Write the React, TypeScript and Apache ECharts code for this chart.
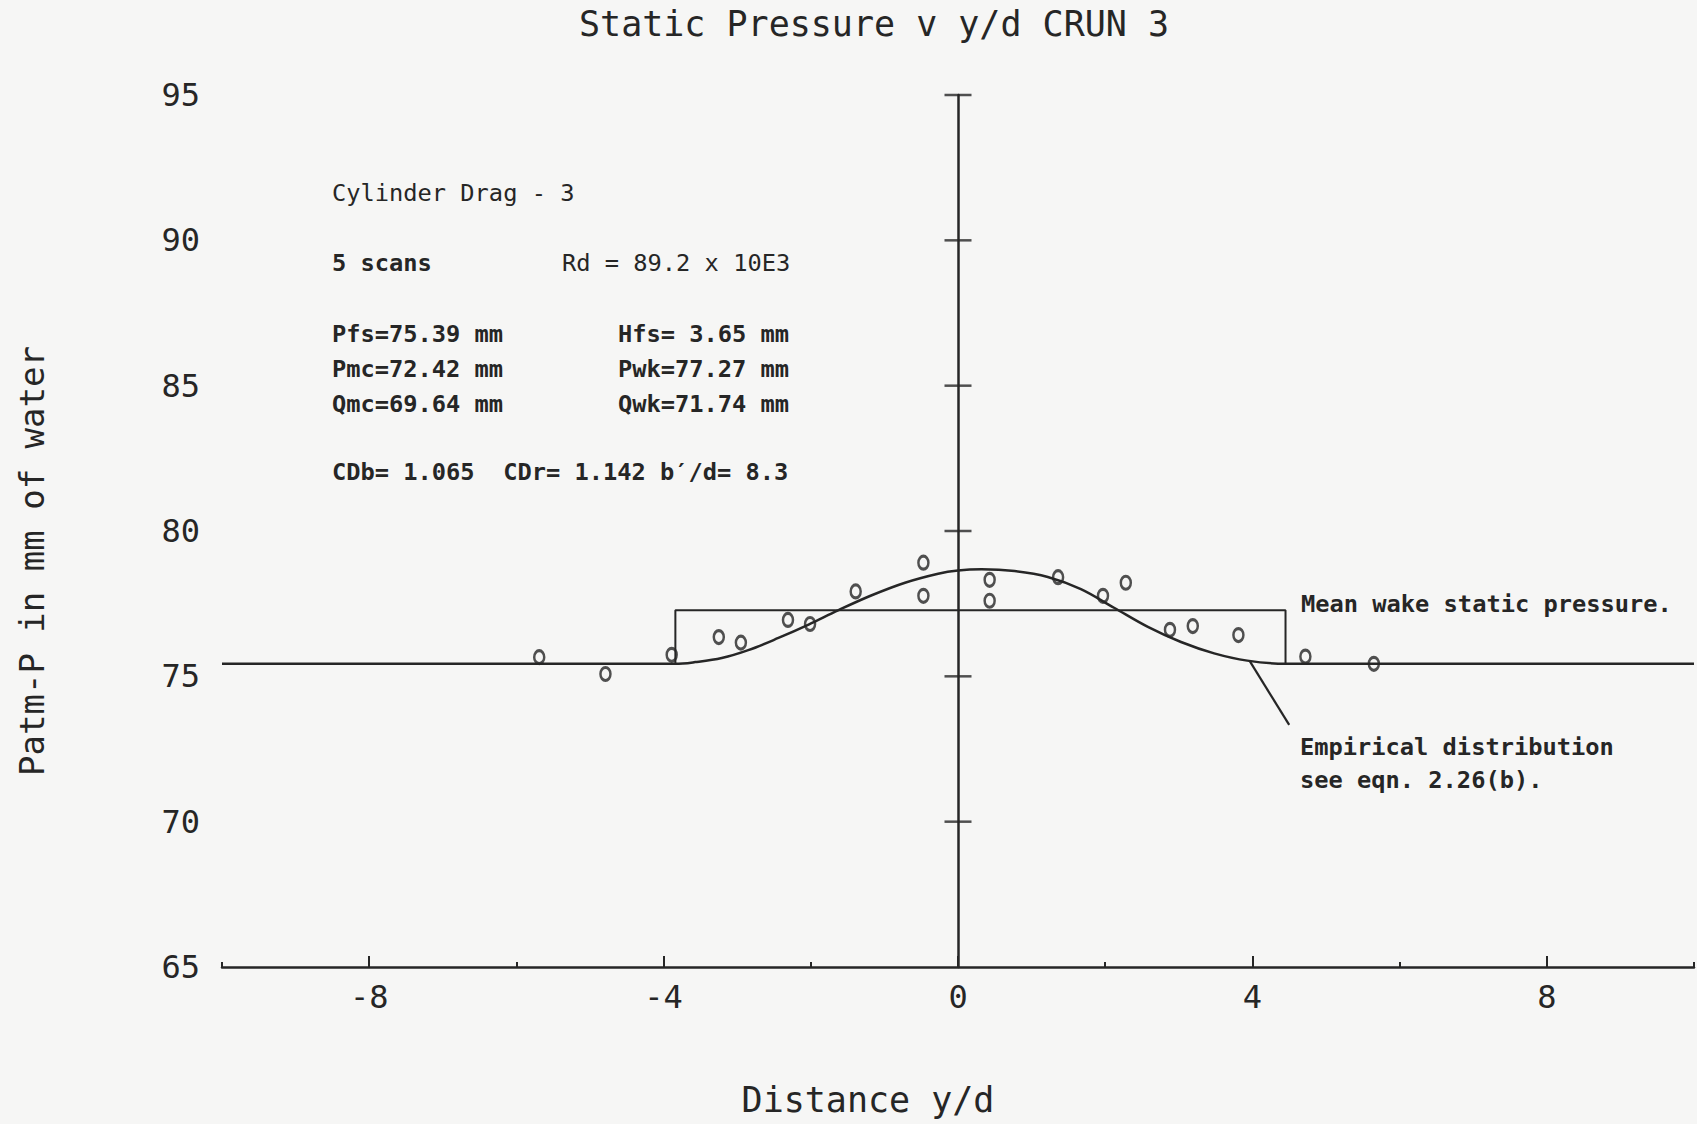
import React, { useEffect, useRef } from "react";
import * as echarts from "echarts";

// ---- data ----
const pointX = [-5.69, -4.79, -3.89, -3.25, -2.95, -2.31, -2.01, -1.39, -0.47, -0.47, 0.43, 0.43, 1.36, 1.97, 2.28, 2.88, 3.19, 3.81, 4.72, 5.65];
const pointY = [75.66, 75.08, 75.74, 76.35, 76.16, 76.94, 76.8, 77.92, 78.91, 77.77, 78.32, 77.6, 78.41, 77.77, 78.22, 76.6, 76.73, 76.42, 75.68, 75.43];

const curveX = [-10, -3.84, -3.57, -3.21, -2.85, -2.44, -2.03, -1.63, -1.18, -0.72, -0.27, 0.0, 0.32, 0.77, 1.22, 1.67, 2.12, 2.58, 3.03, 3.48, 3.93, 4.45, 10];
const curveY = [75.43, 75.43, 75.49, 75.63, 75.9, 76.32, 76.78, 77.27, 77.78, 78.22, 78.53, 78.64, 78.68, 78.62, 78.42, 78.0, 77.36, 76.7, 76.18, 75.79, 75.54, 75.43, 75.43];

const boxEdgesX = [-3.84, 4.45];
const boxBase = 75.43;
const boxTop = 77.27;

const leaderX = [3.96, 4.5];
const leaderY = [75.54, 73.33];

const yTickValues = [70, 75, 80, 85, 90, 95];
const xMajorTicks = [-8, -4, 0, 4, 8];

const textLines: { t: string; x: number; y: number; bold: boolean }[] = [
  { t: "Cylinder Drag - 3", x: 332, y: 193, bold: false },
  { t: "5 scans", x: 332, y: 263, bold: true },
  { t: "Rd = 89.2 x 10E3", x: 562, y: 263, bold: false },
  { t: "Pfs=75.39 mm", x: 332, y: 334, bold: true },
  { t: "Pmc=72.42 mm", x: 332, y: 369, bold: true },
  { t: "Qmc=69.64 mm", x: 332, y: 404, bold: true },
  { t: "Hfs= 3.65 mm", x: 618, y: 334, bold: true },
  { t: "Pwk=77.27 mm", x: 618, y: 369, bold: true },
  { t: "Qwk=71.74 mm", x: 618, y: 404, bold: true },
  { t: "CDb= 1.065  CDr= 1.142 b\u2032/d= 8.3", x: 332, y: 472, bold: true },
  { t: "Mean wake static pressure.", x: 1301, y: 604, bold: true },
  { t: "Empirical distribution", x: 1300, y: 747, bold: true },
  { t: "see eqn. 2.26(b).", x: 1300, y: 780, bold: true },
];

const INK = "#262626";
const MONO = "'DejaVu Sans Mono', 'Liberation Mono', monospace";

export default function App() {
  const ref = useRef<HTMLDivElement>(null);
  useEffect(() => {
    if (!ref.current) return;
    const chart = echarts.init(ref.current, undefined, { renderer: "svg" });

    const curveData = curveX.map((x, i) => [x, curveY[i]]);
    const pointData = pointX.map((x, i) => [x, pointY[i]]);
    const boxData = [
      [boxEdgesX[0], boxBase],
      [boxEdgesX[0], boxTop],
      [boxEdgesX[1], boxTop],
      [boxEdgesX[1], boxBase],
    ];
    const leaderData = leaderX.map((x, i) => [x, leaderY[i]]);
    const yTickData = yTickValues.map((v) => [0, v]);

    const graphics: any[] = [
      {
        type: "text",
        x: 874,
        y: 24,
        style: { text: "Static Pressure v y/d CRUN 3", fontFamily: MONO, fontSize: 35, fill: INK, align: "center", verticalAlign: "middle" },
      },
      {
        type: "text",
        x: 868,
        y: 1100,
        style: { text: "Distance y/d", fontFamily: MONO, fontSize: 35, fill: INK, align: "center", verticalAlign: "middle" },
      },
      {
        type: "text",
        x: 32,
        y: 561,
        rotation: Math.PI / 2,
        style: { text: "Patm-P in mm of water", fontFamily: MONO, fontSize: 34, fill: INK, align: "center", verticalAlign: "middle" },
      },
      ...textLines.map((l) => ({
        type: "text",
        x: l.x,
        y: l.y,
        style: {
          text: l.t,
          fontFamily: MONO,
          fontSize: 23.7,
          fontWeight: l.bold ? "bold" : "normal",
          fill: INK,
          align: "left",
          verticalAlign: "middle",
        },
      })),
    ];

    chart.setOption({
      animation: false,
      backgroundColor: "#f6f6f5",
      grid: { left: 222, right: 0, top: 95, bottom: 157, containLabel: false },
      xAxis: [
        {
          type: "value",
          min: -10,
          max: 10,
          interval: 2,
          position: "bottom",
          axisLine: { show: true, onZero: false, lineStyle: { color: INK, width: 2.5 } },
          axisTick: { show: true, inside: true, length: 5, lineStyle: { color: INK, width: 2 } },
          axisLabel: {
            show: true,
            margin: 14,
            fontFamily: MONO,
            fontSize: 32,
            color: INK,
            formatter: (v: number) => (v % 4 === 0 ? String(v) : ""),
          },
          splitLine: { show: false },
        },
        {
          type: "value",
          min: -10,
          max: 10,
          interval: 2,
          position: "bottom",
          axisLine: { show: false, onZero: false },
          axisTick: { show: true, inside: true, length: 11, customValues: xMajorTicks, lineStyle: { color: INK, width: 2 } },
          axisLabel: { show: false },
          splitLine: { show: false },
        },
      ],
      yAxis: [
        {
          type: "value",
          min: 65,
          max: 95,
          interval: 5,
          axisLine: { show: true, onZero: true, onZeroAxisIndex: 0, lineStyle: { color: INK, width: 2.5 } },
          axisTick: { show: false },
          axisLabel: { show: false },
          splitLine: { show: false },
        },
        {
          type: "value",
          min: 65,
          max: 95,
          interval: 5,
          position: "left",
          axisLine: { show: false, onZero: false },
          axisTick: { show: false },
          axisLabel: { show: true, margin: 22, fontFamily: MONO, fontSize: 32, color: INK },
          splitLine: { show: false },
        },
      ],
      series: [
        {
          type: "line",
          xAxisIndex: 0,
          yAxisIndex: 0,
          data: curveData,
          showSymbol: false,
          smooth: 0.35,
          lineStyle: { color: INK, width: 2.5 },
          z: 3,
        },
        {
          type: "line",
          xAxisIndex: 0,
          yAxisIndex: 0,
          data: boxData,
          showSymbol: false,
          lineStyle: { color: INK, width: 2 },
          z: 3,
        },
        {
          type: "line",
          xAxisIndex: 0,
          yAxisIndex: 0,
          data: leaderData,
          showSymbol: false,
          lineStyle: { color: INK, width: 2.2 },
          z: 3,
        },
        {
          type: "scatter",
          xAxisIndex: 0,
          yAxisIndex: 0,
          data: yTickData,
          symbol: "rect",
          symbolSize: [27, 2.5],
          itemStyle: { color: INK },
          z: 4,
        },
        {
          type: "scatter",
          xAxisIndex: 0,
          yAxisIndex: 0,
          data: pointData,
          symbol: "path://M0,6.5 A5,6.5 0 1 1 10,6.5 A5,6.5 0 1 1 0,6.5 Z",
          symbolSize: [10, 13],
          itemStyle: { color: "rgba(0,0,0,0)", borderColor: INK, borderWidth: 2.8 },
          z: 5,
        },
      ],
      graphic: graphics,
    });

    return () => chart.dispose();
  }, []);

  return (
    <div
      ref={ref}
      style={{ position: "absolute", left: 0, top: 0, width: 1697, height: 1124 }}
    />
  );
}
